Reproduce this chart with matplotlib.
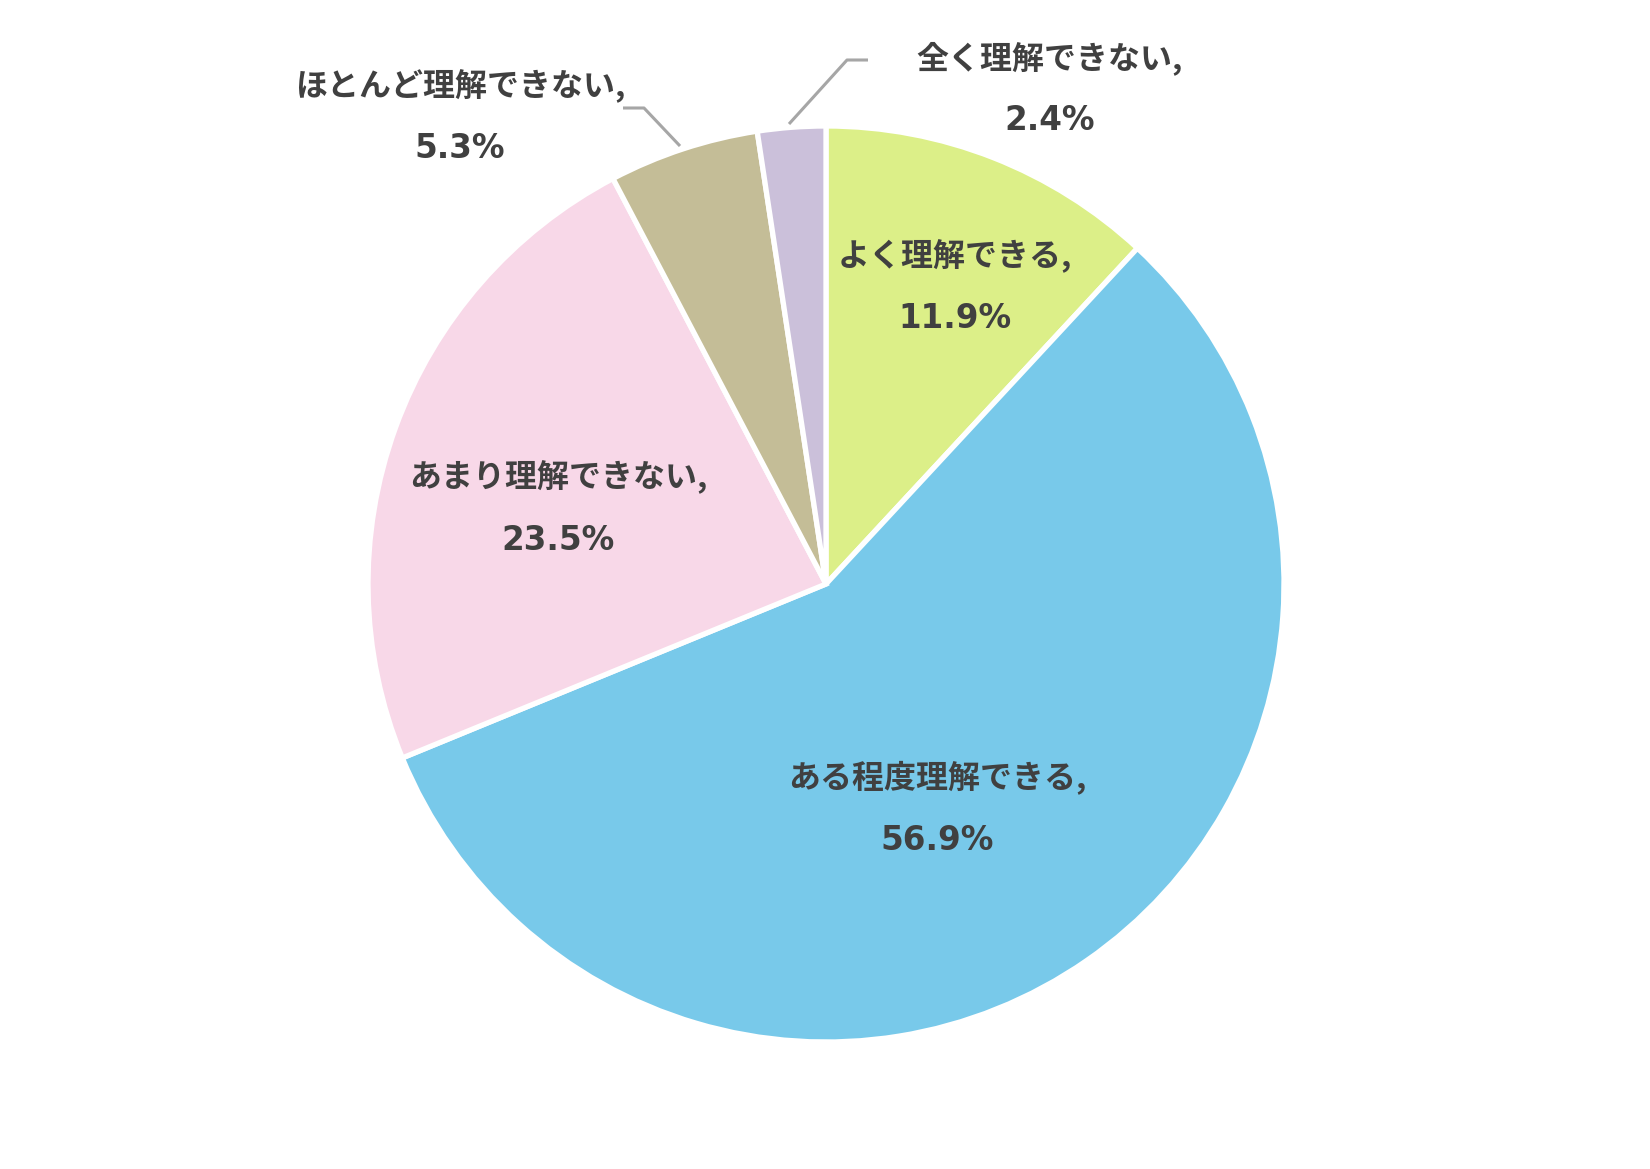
import matplotlib
matplotlib.use("Agg")
import matplotlib.pyplot as plt

plt.rcParams['font.family'] = ['Noto Sans CJK JP', 'DejaVu Sans']

# data
categories = ["よく理解できる", "ある程度理解できる", "あまり理解できない",
              "ほとんど理解できない", "全く理解できない"]
shares = [11.9, 56.9, 23.5, 5.3, 2.4]
colors = ["#DCEF88", "#78C9EA", "#F8D8E8", "#C4BD97", "#CBC0DA"]

W, H = 1650, 1169
cx, cy, R = 826, 584, 458

fig = plt.figure(figsize=(W / 100, H / 100), dpi=100)
ax = fig.add_axes([(cx - R * 1.9) / W, (H - cy - R * 1.25) / H, 2 * R * 1.9 / W, 2 * R * 1.25 / H])
ax.set_xlim(-1.9, 1.9)
ax.set_ylim(-1.25, 1.25)
ax.set_aspect("equal")
ax.axis("off")

wedges, _ = ax.pie(shares, colors=colors, startangle=90, counterclock=False,
                   radius=1.0, wedgeprops=dict(edgecolor="white", linewidth=3.8))


def to_data(px, py):
    return (px - cx) / R, (cy - py) / R


# label positions in pixels: (x, name line y, percent line y)
label_px = [(955, 256, 319), (937, 777, 840), (558, 477, 540), (460, 86, 148), (1050, 58, 121)]
for name, val, (px, py1, py2) in zip(categories, shares, label_px):
    x, y1 = to_data(px, py1)
    _, y2 = to_data(px, py2)
    ax.text(x, y1, f"{name},", ha="center", va="center",
            fontsize=23, fontweight="bold", color="#404040")
    ax.text(x, y2, f"{val}%", ha="center", va="center", family="DejaVu Sans",
            fontsize=23.5, fontweight="bold", color="#404040")

# leader lines for the small slices
for pts in ([(623, 108), (644, 108), (680, 146)],
            [(868, 60), (847, 60), (789, 124)]):
    xs, ys = zip(*[to_data(px, py) for px, py in pts])
    ax.plot(xs, ys, color="#A6A6A6", linewidth=2.2, solid_capstyle="butt")

fig.savefig("out.png", dpi=100, facecolor="white")
